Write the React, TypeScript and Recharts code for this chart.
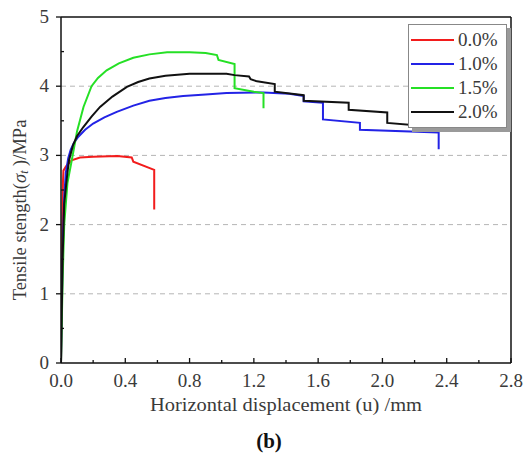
import { LineChart, Line, XAxis, YAxis, ReferenceLine, Legend } from 'recharts'

// tensile strength (MPa) vs horizontal displacement (mm), one array per fibre content
const fiber00 = [
  { u: 0, s: 0 }, { u: 0.004, s: 1.0 }, { u: 0.008, s: 2.0 }, { u: 0.012, s: 2.6 },
  { u: 0.015, s: 2.78 }, { u: 0.031, s: 2.84 }, { u: 0.066, s: 2.93 }, { u: 0.118, s: 2.97 },
  { u: 0.2, s: 2.98 }, { u: 0.35, s: 2.99 }, { u: 0.44, s: 2.97 }, { u: 0.45, s: 2.91 },
  { u: 0.58, s: 2.79 }, { u: 0.58, s: 2.22 },
]
const fiber10 = [
  { u: 0, s: 0 }, { u: 0.005, s: 0.8 }, { u: 0.01, s: 1.6 }, { u: 0.02, s: 2.4 },
  { u: 0.03, s: 2.75 }, { u: 0.045, s: 2.96 }, { u: 0.06, s: 3.08 }, { u: 0.08, s: 3.18 },
  { u: 0.108, s: 3.27 }, { u: 0.15, s: 3.37 }, { u: 0.2, s: 3.46 }, { u: 0.27, s: 3.55 },
  { u: 0.347, s: 3.63 }, { u: 0.45, s: 3.72 }, { u: 0.55, s: 3.79 }, { u: 0.65, s: 3.83 },
  { u: 0.76, s: 3.86 }, { u: 0.9, s: 3.88 }, { u: 1.03, s: 3.9 }, { u: 1.26, s: 3.91 },
  { u: 1.42, s: 3.89 }, { u: 1.51, s: 3.86 }, { u: 1.51, s: 3.78 }, { u: 1.63, s: 3.76 },
  { u: 1.63, s: 3.52 }, { u: 1.86, s: 3.47 }, { u: 1.86, s: 3.37 }, { u: 2.35, s: 3.33 },
  { u: 2.35, s: 3.09 },
]
const fiber15 = [
  { u: 0, s: 0 }, { u: 0.01, s: 1.2 }, { u: 0.02, s: 2.0 }, { u: 0.04, s: 2.6 },
  { u: 0.067, s: 2.93 }, { u: 0.1, s: 3.35 }, { u: 0.14, s: 3.7 }, { u: 0.19, s: 4.0 },
  { u: 0.23, s: 4.12 }, { u: 0.284, s: 4.23 }, { u: 0.36, s: 4.33 }, { u: 0.45, s: 4.41 },
  { u: 0.55, s: 4.46 }, { u: 0.66, s: 4.49 }, { u: 0.8, s: 4.49 }, { u: 0.9, s: 4.48 },
  { u: 0.97, s: 4.45 }, { u: 0.98, s: 4.38 }, { u: 1.08, s: 4.32 }, { u: 1.08, s: 3.97 },
  { u: 1.2, s: 3.92 }, { u: 1.26, s: 3.9 }, { u: 1.26, s: 3.68 },
]
const fiber20 = [
  { u: 0, s: 0 }, { u: 0.01, s: 1.5 }, { u: 0.02, s: 2.3 }, { u: 0.04, s: 2.75 },
  { u: 0.05, s: 2.93 }, { u: 0.075, s: 3.15 }, { u: 0.1, s: 3.28 }, { u: 0.139, s: 3.41 },
  { u: 0.19, s: 3.56 }, { u: 0.243, s: 3.7 }, { u: 0.32, s: 3.85 }, { u: 0.41, s: 3.99 },
  { u: 0.48, s: 4.06 }, { u: 0.55, s: 4.11 }, { u: 0.65, s: 4.15 }, { u: 0.8, s: 4.18 },
  { u: 1.03, s: 4.18 }, { u: 1.08, s: 4.16 }, { u: 1.17, s: 4.14 }, { u: 1.18, s: 4.1 },
  { u: 1.22, s: 4.07 }, { u: 1.33, s: 4.03 }, { u: 1.33, s: 3.92 }, { u: 1.51, s: 3.87 },
  { u: 1.51, s: 3.79 }, { u: 1.79, s: 3.76 }, { u: 1.79, s: 3.66 }, { u: 2.03, s: 3.62 },
  { u: 2.03, s: 3.47 }, { u: 2.28, s: 3.42 },
]

const xTicks = [0, 0.2, 0.4, 0.6, 0.8, 1.0, 1.2, 1.4, 1.6, 1.8, 2.0, 2.2, 2.4, 2.6, 2.8]
const yTicks = [0, 0.5, 1, 1.5, 2, 2.5, 3, 3.5, 4, 4.5, 5]
const gridValues = [1, 2, 3, 4]

const FONT = "'Times New Roman', 'Liberation Serif', 'DejaVu Serif', serif"
const TEXT = '#3a3a3a'

function isMajorX(v: number) {
  return Math.abs(Math.round(v * 10) % 4) === 0
}

function XTick(props: any) {
  const { x, y, payload } = props
  const major = isMajorX(payload.value)
  return (
    <g>
      <line x1={x} x2={x} y1={y} y2={y - (major ? 5 : 3)} stroke="#111" strokeWidth={1.3} />
      {major && (
        <text x={x} y={y + 24} textAnchor="middle" style={{ fontFamily: FONT }} fontSize={19} fill={TEXT}>
          {payload.value.toFixed(1)}
        </text>
      )}
    </g>
  )
}

function YTick(props: any) {
  const { x, y, payload } = props
  const major = Number.isInteger(payload.value)
  return (
    <g>
      {major
        ? <line x1={x - 5} x2={x} y1={y} y2={y} stroke="#111" strokeWidth={1.3} />
        : <line x1={x} x2={x + 3} y1={y} y2={y} stroke="#111" strokeWidth={1.3} />}
      {major && (
        <text x={x - 12} y={y + 6} textAnchor="end" style={{ fontFamily: FONT }} fontSize={19} fill={TEXT}>
          {payload.value}
        </text>
      )}
    </g>
  )
}

function XTitle(props: any) {
  const { x, y, width } = props.viewBox
  const cx = x + width / 2
  return (
    <g style={{ fontFamily: FONT }}>
      <text
        x={cx} y={y + 48} textAnchor="middle" fontSize={19} fill={TEXT}
        textLength={272} lengthAdjust="spacingAndGlyphs"
      >
        Horizontal displacement (u) /mm
      </text>
      <text x={cx - 17} y={y + 85} textAnchor="middle" fontSize={21} fontWeight={700} fill="#111">
        (b)
      </text>
    </g>
  )
}

function YTitle() {
  const cx = 20
  const cy = 210
  return (
    <text
      x={cx} y={cy} transform={`rotate(-90, ${cx}, ${cy})`} textAnchor="middle"
      dominantBaseline="central" style={{ fontFamily: FONT }} fontSize={18.5} fill={TEXT}
    >
      Tensile stength(<tspan fontStyle="italic">σ</tspan>
      <tspan fontSize={12} dy={4} fontStyle="italic">t</tspan>
      <tspan dy={-4}> )/MPa</tspan>
    </text>
  )
}

function LegendBox({ payload }: any) {
  return (
    <div style={{
      background: '#fff', border: '1px solid #888', boxShadow: '4px 4px 0 #9a9a9a',
      width: 97, padding: '3px 0 3px 0', fontFamily: FONT,
    }}>
      {(payload || []).map((p: any) => (
        <div key={p.value} style={{ display: 'flex', alignItems: 'center', height: 24 }}>
          <div style={{ width: 43, height: 2, background: p.color, marginLeft: 2, marginRight: 4 }} />
          <span style={{ fontSize: 19, color: TEXT, lineHeight: '24px' }}>{p.value}</span>
        </div>
      ))}
    </div>
  )
}

export default function App() {
  return (
    <div style={{ position: 'absolute', left: 0, top: 0, background: '#fff' }}>
      <LineChart width={526} height={453} margin={{ top: 17, right: 15, left: 0, bottom: 0 }}>
        <XAxis
          dataKey="u" type="number" domain={[0, 2.8]} ticks={xTicks} allowDataOverflow
          interval={0} height={90} tickSize={0} tickMargin={0} tickLine={false}
          tick={<XTick />} axisLine={{ stroke: '#111', strokeWidth: 1.5 }}
          label={<XTitle />}
        />
        <YAxis
          type="number" domain={[0, 5]} ticks={yTicks} allowDataOverflow
          interval={0} width={61} tickSize={0} tickMargin={0} tickLine={false}
          tick={<YTick />} axisLine={{ stroke: '#111', strokeWidth: 1.5 }}
          label={<YTitle />}
        />
        {gridValues.map(v => (
          <ReferenceLine key={v} y={v} stroke="#b5b5b5" strokeDasharray="5 4" />
        ))}
        <ReferenceLine y={5} stroke="#111" strokeWidth={1.5} />
        <ReferenceLine x={2.8} stroke="#111" strokeWidth={1.5} />
        <Line data={fiber00} dataKey="s" name="0.0%" stroke="#f21c1c" strokeWidth={2} dot={false} isAnimationActive={false} />
        <Line data={fiber10} dataKey="s" name="1.0%" stroke="#2323e6" strokeWidth={2} dot={false} isAnimationActive={false} />
        <Line data={fiber15} dataKey="s" name="1.5%" stroke="#25e025" strokeWidth={2} dot={false} isAnimationActive={false} />
        <Line data={fiber20} dataKey="s" name="2.0%" stroke="#111" strokeWidth={2} dot={false} isAnimationActive={false} />
        <Legend
          layout="vertical" align="center" verticalAlign="middle"
          content={<LegendBox />}
          wrapperStyle={{ top: 24, left: 408, width: 101, height: 104 }}
        />
      </LineChart>
    </div>
  )
}
